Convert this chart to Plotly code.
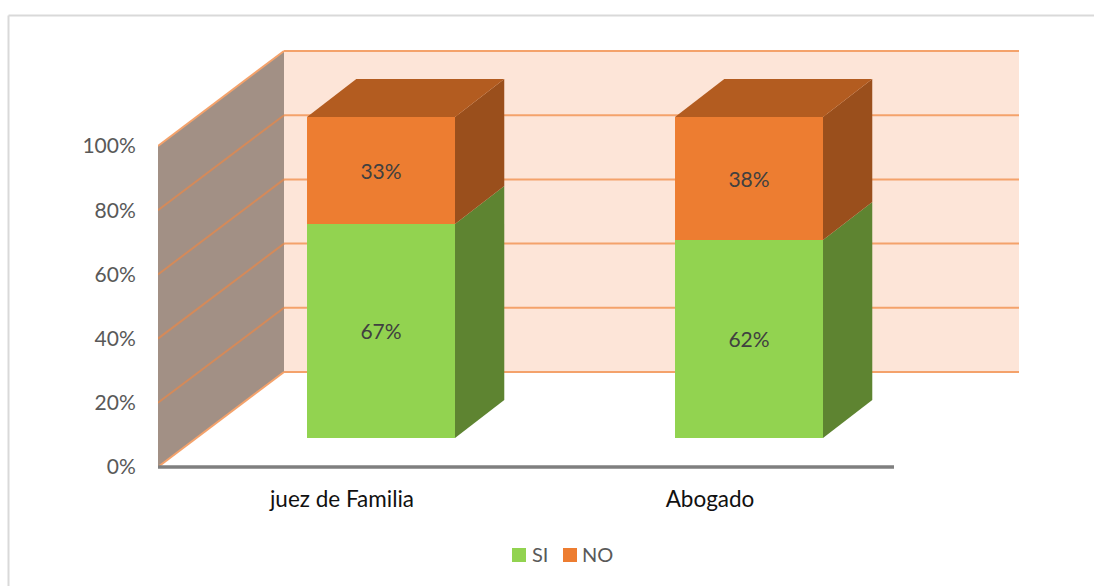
import plotly.graph_objects as go

categories = ["juez de Familia", "Abogado"]
si_values = [66.7, 61.7]
no_values = [33.3, 38.3]
si_labels = ["67%", "62%"]
no_labels = ["33%", "38%"]
y_ticks = [0, 20, 40, 60, 80, 100]
y_tick_labels = ["0%", "20%", "40%", "60%", "80%", "100%"]
legend_names = ["SI", "NO"]

W, H = 1094, 586
L, R, T, B = 158, 1019, 50, 467   # B is where 0% sits
FLOOR_PAD = 6                     # room below 0% so the floor line is not clipped
PX_X = 368.0            # pixels per category
PX_Y = 3.21             # pixels per percent
X_MIN = -0.5
X_MAX = X_MIN + (R - L) / PX_X
Y_MIN = -FLOOR_PAD / PX_Y
Y_MAX = (B - T) / PX_Y
WALL_DX, WALL_DY = 126 / PX_X, 95 / PX_Y
BAR_DX0, BAR_DY0 = 0.1060, 29 / PX_Y   # front of bar, relative to category position
BAR_DX1, BAR_DY1 = 0.2399, 67 / PX_Y   # back of bar
BAR_W = 148 / PX_X

GREEN, GREEN_SIDE = "#92D350", "#5E8431"
ORANGE, ORANGE_SIDE, ORANGE_TOP = "#ED7D31", "#9A4F1C", "#B35C20"
WALL_BACK, WALL_SIDE = "#FDE5D8", "#A29085"
GRID_BACK, GRID_SIDE = "#F4A26B", "#D48A5A"
FONT = "Lato, Carlito, Calibri, sans-serif"

fig = go.Figure()

cats_x = list(range(len(categories)))
centres = [c + BAR_DX0 for c in cats_x]
fig.add_trace(go.Bar(
    x=centres, y=si_values, base=[BAR_DY0] * 2, width=BAR_W, name=legend_names[0],
    marker=dict(color=GREEN, line=dict(width=0)), text=si_labels,
    textposition="inside", insidetextanchor="middle", textangle=0,
    textfont=dict(family=FONT, size=21, color="#404040"), showlegend=False))
fig.add_trace(go.Bar(
    x=centres, y=no_values, base=[BAR_DY0 + v for v in si_values], width=BAR_W, name=legend_names[1],
    marker=dict(color=ORANGE, line=dict(width=0)), text=no_labels,
    textposition="inside", insidetextanchor="middle", textangle=0,
    textfont=dict(family=FONT, size=21, color="#404040"), showlegend=False))


def poly(xs, ys, color):
    fig.add_trace(go.Scatter(x=xs, y=ys, mode="lines", fill="toself", fillcolor=color,
                             line=dict(width=0, color=color), hoverinfo="skip", showlegend=False))


ddx, ddy = BAR_DX1 - BAR_DX0, BAR_DY1 - BAR_DY0
for cx, s, n in zip(centres, si_values, no_values):
    xr = cx + BAR_W / 2
    xl = cx - BAR_W / 2
    y0, y1, y2 = BAR_DY0, BAR_DY0 + s, BAR_DY0 + s + n
    poly([xr, xr + ddx, xr + ddx, xr], [y0, y0 + ddy, y1 + ddy, y1], GREEN_SIDE)
    poly([xr, xr + ddx, xr + ddx, xr], [y1, y1 + ddy, y2 + ddy, y2], ORANGE_SIDE)
    poly([xl, xr, xr + ddx, xl + ddx], [y2, y2, y2 + ddy, y2 + ddy], ORANGE_TOP)

# floor axis line, spanning the categories
fig.add_trace(go.Scatter(x=[X_MIN, X_MIN + 2], y=[0, 0], mode="lines",
                         line=dict(color="#7F7F7F", width=3.5), hoverinfo="skip", showlegend=False))

# walls and gridlines, underneath the bars
shapes = [
    dict(type="rect", layer="below", x0=X_MIN + WALL_DX, x1=X_MAX, y0=WALL_DY, y1=100 + WALL_DY,
         fillcolor=WALL_BACK, line=dict(width=0)),
    dict(type="path", layer="below",
         path=f"M{X_MIN},0 L{X_MIN + WALL_DX},{WALL_DY} L{X_MIN + WALL_DX},{100 + WALL_DY} L{X_MIN},100 Z",
         fillcolor=WALL_SIDE, line=dict(width=0)),
]
for t in y_ticks:
    shapes.append(dict(type="line", layer="below", x0=X_MIN, y0=t, x1=X_MIN + WALL_DX, y1=t + WALL_DY,
                       line=dict(color=GRID_SIDE if 0 < t < 100 else GRID_BACK, width=2)))
    shapes.append(dict(type="line", layer="below", x0=X_MIN + WALL_DX, y0=t + WALL_DY, x1=X_MAX, y1=t + WALL_DY,
                       line=dict(color=GRID_BACK, width=2)))


# paper coordinates are relative to the plot area
def px(x):
    return (x - L) / (R - L)


def py(y):
    return (B + FLOOR_PAD - y) / (B + FLOOR_PAD - T)


# outer chart frame (open on the right and bottom, as cropped)
FRAME = "#D9D9D9"
shapes.append(dict(type="line", xref="paper", yref="paper", x0=px(8.5), x1=px(W), y0=py(15.5), y1=py(15.5),
                   line=dict(color=FRAME, width=2)))
shapes.append(dict(type="line", xref="paper", yref="paper", x0=px(8.5), x1=px(8.5), y0=py(15.5), y1=py(H),
                   line=dict(color=FRAME, width=2)))

# legend
annotations = []
for name, col, x0, tx in [(legend_names[0], GREEN, 512, 531), (legend_names[1], ORANGE, 563, 581)]:
    shapes.append(dict(type="rect", xref="paper", yref="paper", x0=px(x0), x1=px(x0 + 14),
                       y0=py(562), y1=py(548), fillcolor=col, line=dict(width=0)))
    annotations.append(dict(text=name, xref="paper", yref="paper", x=px(tx), y=py(554), xanchor="left",
                            yanchor="middle", showarrow=False, borderpad=0,
                            font=dict(family=FONT, size=20, color="#595959")))

fig.update_layout(
    width=W, height=H, autosize=False, barmode="overlay",
    margin=dict(l=L, r=W - R, t=T, b=H - B - FLOOR_PAD, pad=0),
    paper_bgcolor="white", plot_bgcolor="rgba(0,0,0,0)",
    shapes=shapes, annotations=annotations, showlegend=False,
    xaxis=dict(range=[X_MIN, X_MAX], tickmode="array", tickvals=cats_x, ticktext=categories,
               showgrid=False, zeroline=False, showline=False, ticks="outside", ticklen=6,
               tickcolor="rgba(0,0,0,0)", tickfont=dict(family=FONT, size=22.5, color="#111111")),
    yaxis=dict(range=[Y_MIN, Y_MAX], tickmode="array", tickvals=y_ticks, ticktext=y_tick_labels,
               showgrid=False, zeroline=False, showline=False, ticks="outside", ticklen=17,
               tickcolor="rgba(0,0,0,0)", tickfont=dict(family=FONT, size=21, color="#595959")),
)

# the page's default body margin would shift the figure by 8 px
fig.write_html("out.html", config={"displayModeBar": False},
               post_script="document.body.style.margin='0';document.body.style.overflow='hidden';")
